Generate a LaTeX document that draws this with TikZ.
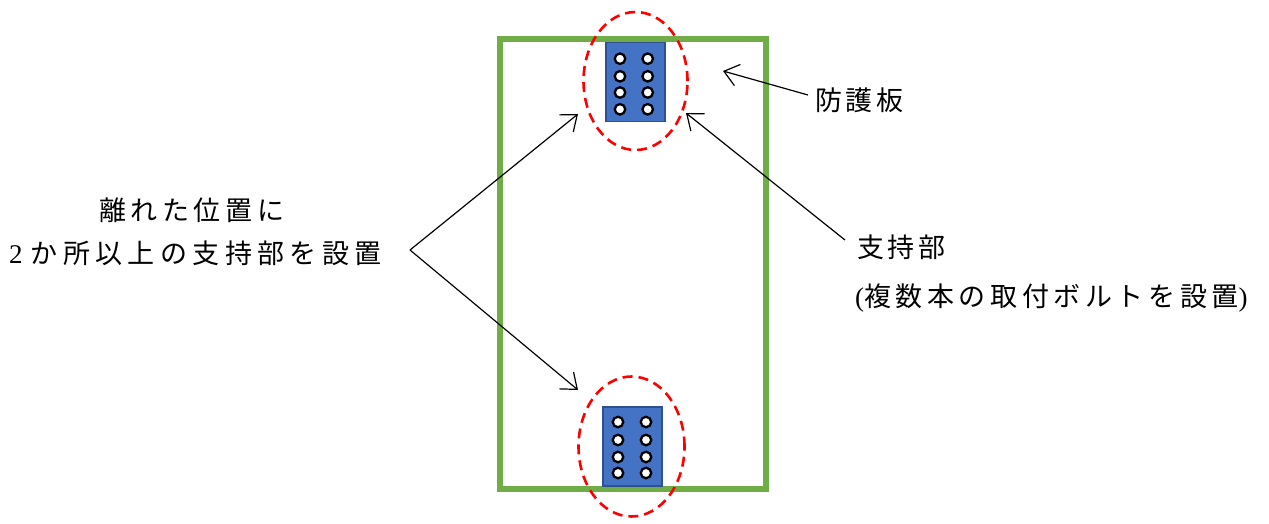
\documentclass[tikz,border=0pt]{standalone}
\usepackage{fontspec}
\usetikzlibrary{shapes.geometric,arrows.meta}
\newfontfamily\jpA[LetterSpace=14]{Noto Sans CJK JP}
\newfontfamily\jpB[LetterSpace=20]{Noto Sans CJK JP}
\newfontfamily\jpC[LetterSpace=17]{Noto Sans CJK JP}
\newfontfamily\latn{Liberation Serif}
\definecolor{plategreen}{HTML}{70AD47}
\definecolor{boxblue}{HTML}{4472C4}
\definecolor{boxedge}{HTML}{2F528F}
\tikzset{
  support/.style={rectangle, draw=boxedge, line width=1.5pt, fill=boxblue, minimum width=59pt, minimum height=79pt, inner sep=0pt},
  bolt/.style={circle, draw=black, fill=white, line width=2.3pt, minimum size=10.5pt, inner sep=0pt},
  zone/.style={ellipse, draw=red, dashed, dash pattern=on 10pt off 6pt, line width=2.6pt, inner sep=0pt},
  lbl/.style={inner sep=0pt, font=\fontsize{27pt}{32pt}\selectfont, anchor=west},
  ptr/.style={draw=black, line width=1.2pt, -{Straight Barb[length=14pt,width=22pt,line width=1.2pt]}},
}
\begin{document}
\begin{tikzpicture}[x=1pt,y=-1pt]
\useasboundingbox (0,0) rectangle (1269,523);
% plate
\node[draw=plategreen, line width=6pt, minimum width=266pt, minimum height=450pt, inner sep=0pt] (plate) at (633,263.5) {};
% top support
\node[support] (topbox) at (635.5,82) {};
\foreach \i/\yy in {1/58.7,2/76.3,3/92.5,4/109.3}{
  \node[bolt] (tl\i) at (620,\yy) {};
  \node[bolt] (tr\i) at (647.7,\yy) {};
}
% bottom support
\node[support] (botbox) at (632.5,446.5) {};
\foreach \i/\yy in {1/422,2/440,3/457,4/473}{
  \node[bolt] (bl\i) at (618,\yy) {};
  \node[bolt] (br\i) at (646,\yy) {};
}
% zones
\node[zone, minimum width=104pt, minimum height=138pt] (topzone) at (635.5,81) {};
\node[zone, minimum width=106pt, minimum height=140pt] (botzone) at (631.5,446.5) {};
% labels
\node[lbl] (sep1) at (99,210) {\jpC 離れた位置に};
\node[lbl] (sep2) at (9,253) {{\latn 2}\hspace{8pt}\jpB か所以上の支持部を設置};
\node[lbl] (guard) at (815,100) {\jpA 防護板};
\node[lbl] (sup1) at (857,247) {\jpA 支持部};
\node[lbl] (sup2) at (855,298) {{\latn (}\jpC 複数本の取付ボルトを設置\latn )};
% pointers
\coordinate (fork) at (410,250);
\coordinate (toptip) at (578,114);
\coordinate (bottip) at (578,390);
\coordinate (guardfoot) at (808,95);
\coordinate (guardtip) at (723,71);
\coordinate (supfoot) at (845,240);
\coordinate (suptip) at (686,113);
\draw[ptr] (fork) -- (toptip);
\draw[ptr] (fork) -- (bottip);
\draw[ptr] (guardfoot) -- (guardtip);
\draw[ptr] (supfoot) -- (suptip);
\end{tikzpicture}
\end{document}
